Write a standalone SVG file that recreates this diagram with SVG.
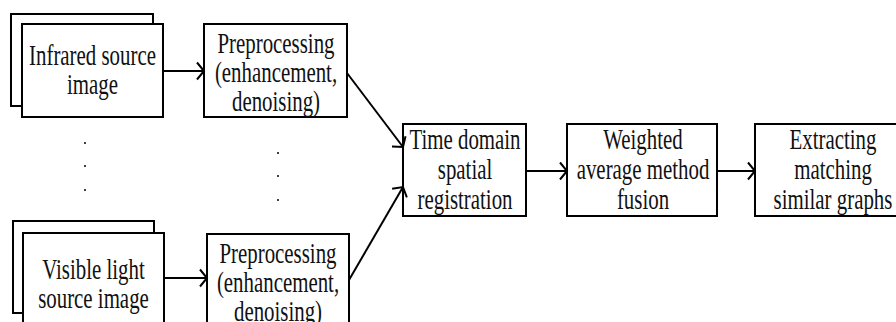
<svg xmlns="http://www.w3.org/2000/svg" width="896" height="322" viewBox="0 0 896 322">
<defs>
<style>
.box{fill:#fff;stroke:#000;stroke-width:2}
.lbl{font-family:'Liberation Serif','DejaVu Serif',serif;font-size:29px;fill:#111;text-anchor:middle}
.con{stroke:#000;stroke-width:2;fill:none}
.dot{fill:#000}
</style>
<marker id="arr" markerUnits="userSpaceOnUse" markerWidth="20" markerHeight="20" viewBox="-10 -10 20 20" refX="0" refY="0" orient="auto" overflow="visible">
<path d="M-7,-8.5 L0,0 L-7,8.5" fill="none" stroke="#000" stroke-width="2"/>
</marker>
</defs>
<rect width="896" height="322" fill="#fff"/>

<g id="infrared">
<rect class="box" x="11" y="14" width="142" height="92"/>
<rect class="box" x="22" y="24" width="141" height="93"/>
<text class="lbl" font-family="Liberation Serif, serif" transform="translate(92.5,0) scale(0.72,1)"><tspan x="0" y="65">Infrared source</tspan><tspan x="0" y="94">image</tspan></text>
</g>

<g id="pre1">
<rect class="box" x="204" y="24" width="143" height="93"/>
<text class="lbl" font-family="Liberation Serif, serif" transform="translate(276,0) scale(0.72,1)"><tspan x="0" y="53">Preprocessing</tspan><tspan x="0" y="82.5">(enhancement,</tspan><tspan x="0" y="111">denoising)</tspan></text>
</g>

<g id="visible">
<rect class="box" x="13" y="221" width="141" height="92"/>
<rect class="box" x="23" y="233" width="141" height="110"/>
<text class="lbl" font-family="Liberation Serif, serif" transform="translate(93.5,0) scale(0.72,1)"><tspan x="0" y="279.5">Visible light</tspan><tspan x="0" y="308.5">source image</tspan></text>
</g>

<g id="pre2">
<rect class="box" x="207" y="234" width="142" height="110"/>
<text class="lbl" font-family="Liberation Serif, serif" transform="translate(278,0) scale(0.72,1)"><tspan x="0" y="263">Preprocessing</tspan><tspan x="0" y="292.5">(enhancement,</tspan><tspan x="0" y="321.5">denoising)</tspan></text>
</g>

<g id="registration">
<rect class="box" x="403" y="124" width="123" height="92"/>
<text class="lbl" font-family="Liberation Serif, serif" transform="translate(465,0) scale(0.72,1)"><tspan x="0" y="149">Time domain</tspan><tspan x="0" y="179">spatial</tspan><tspan x="0" y="209">registration</tspan></text>
</g>

<g id="fusion">
<rect class="box" x="567" y="124" width="150" height="92"/>
<text class="lbl" font-family="Liberation Serif, serif" transform="translate(643,0) scale(0.72,1)"><tspan x="0" y="149">Weighted</tspan><tspan x="0" y="179">average method</tspan><tspan x="0" y="209">fusion</tspan></text>
</g>

<g id="extract">
<rect class="box" x="755" y="124" width="150" height="92"/>
<text class="lbl" font-family="Liberation Serif, serif" transform="translate(833,0) scale(0.72,1)"><tspan x="0" y="149">Extracting</tspan><tspan x="0" y="179">matching</tspan><tspan x="0" y="209">similar graphs</tspan></text>
</g>

<g id="ellipsis">
<circle class="dot" cx="85" cy="143" r="1"/>
<circle class="dot" cx="85" cy="166" r="1"/>
<circle class="dot" cx="85" cy="190" r="1"/>
<circle class="dot" cx="278" cy="153" r="1"/>
<circle class="dot" cx="278" cy="176" r="1"/>
<circle class="dot" cx="278" cy="200" r="1"/>
</g>

<g id="connectors">
<line class="con" x1="163" y1="71" x2="204" y2="71" marker-end="url(#arr)"/>
<line class="con" x1="164" y1="278" x2="207" y2="278" marker-end="url(#arr)"/>
<line class="con" x1="347" y1="73" x2="403" y2="147" marker-end="url(#arr)"/>
<line class="con" x1="349" y1="280" x2="403" y2="187" marker-end="url(#arr)"/>
<line class="con" x1="526" y1="171" x2="567" y2="171" marker-end="url(#arr)"/>
<line class="con" x1="717" y1="171" x2="755" y2="171" marker-end="url(#arr)"/>
</g>
</svg>
